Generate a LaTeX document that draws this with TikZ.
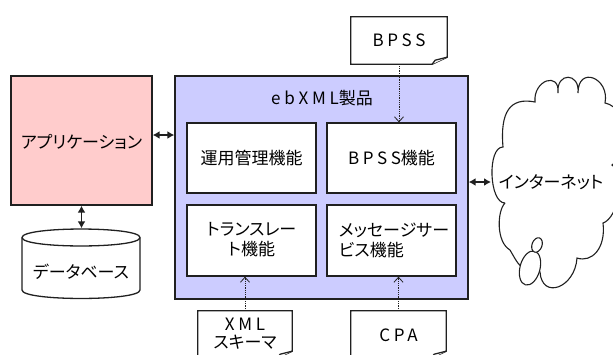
\documentclass[tikz,border=0pt]{standalone}
\usepackage{fontspec}
\setmainfont{Noto Sans CJK JP}[RawFeature=+palt]
\newfontfamily\lsp{Noto Sans CJK JP}[LetterSpace=22]
\usetikzlibrary{arrows.meta,calc}
\definecolor{apppink}{HTML}{FFCCCC}
\definecolor{ebblue}{HTML}{CCCCFF}
\definecolor{edge}{HTML}{202020}
\begin{document}
\begin{tikzpicture}[x=1pt,y=-1pt,
  font=\fontsize{17}{20}\selectfont,
  box/.style={draw=edge, line width=1.3pt, inner sep=0pt},
  inbox/.style={box, fill=white, minimum width=129pt, minimum height=70pt},
  docbox/.style={inner sep=0pt, align=center},
  docline/.style={draw=edge, line width=1.3pt, fill=white, line join=miter},
  dbl/.style={{Latex[length=7pt,width=8pt]}-{Latex[length=7pt,width=8pt]}, line width=1.4pt, draw=edge},
  feed/.style={densely dotted, line width=0.8pt, draw=edge, -{Straight Barb[length=5pt,width=9pt]}},
  cloudline/.style={draw=edge, line width=1.1pt}]
\useasboundingbox (0,0) rectangle (613,354);
\clip (0,0) rectangle (613,354);
\fill[white] (0,0) rectangle (613,354);

% application
\node[box, fill=apppink, minimum width=141pt, minimum height=129pt] (app) at (81.5,140.5) {};
\node (apptext) at (81.5,142) {アプリケーション};

% database cylinder
\node[inner sep=0pt, minimum width=118pt, minimum height=71pt] (db) at (81,264) {};
\draw[docline] (22,237.5) -- (22,290) .. controls (22,301.3) and (140,301.3) .. (140,290) -- (140,237.5)
  .. controls (140,226.2) and (22,226.2) .. (22,237.5) -- cycle;
\draw[draw=edge, line width=1.3pt] (22,237.5) .. controls (22,248.8) and (140,248.8) .. (140,237.5);
\node (dbtext) at (81,272) {データベース};

% ebXML product
\node[box, fill=ebblue, minimum width=293pt, minimum height=223pt] (eb) at (321.5,187.5) {};
\node (ebtitle) at (322,98) {{\lsp ebXML}製品};
\node[inbox] (ops) at (251.5,158) {運用管理機能};
\node[inbox] (bpssf) at (391.5,158) {{\lsp BPSS}機能};
\node[inbox, minimum height=71pt] (trans) at (251.5,240.5) {};
\node[inbox, minimum height=71pt] (msg) at (391.5,240.5) {};
\node[align=center] (transtext) at (251.5,240) {トランスレー\\ト機能};
\node[align=left] (msgtext) at (394,240) {メッセージサー\\ビス機能};

% documents
\node[docbox, minimum width=96pt, minimum height=47pt] (bpssdoc) at (399,40.5) {};
\node[docbox, minimum width=94pt, minimum height=47pt] (xmldoc) at (245,334.5) {};
\node[docbox, minimum width=95pt, minimum height=47pt] (cpadoc) at (398.5,334.5) {};
\foreach \d in {bpssdoc,xmldoc,cpadoc}{
  \draw[docline] (\d.north west) -- (\d.north east) -- ($(\d.south east)+(0,-7)$)
    -- ($(\d.south east)+(-15,0)$) -- (\d.south west) -- cycle;
  \draw[docline] ($(\d.south east)+(-15,0)$) -- ($(\d.south east)+(-12,-4)$) -- ($(\d.south east)+(0,-7)$);
}
\node (bpsstext) at (399,40) {\lsp BPSS};
\node[align=center, font=\fontsize{17}{18}\selectfont] (xmltext) at (245,334) {{\lsp XML}\\スキーマ};
\node (cpatext) at (398.5,335) {\lsp CPA};

% cloud
\draw[cloudline, fill=white] (505,203) .. controls +(-16,0) and +(-16,0) .. (503,147)
  .. controls +(-3,-35) and +(-25,-5) .. (535,102)
  .. controls +(-2,-22) and +(2,-22) .. (558,93)
  .. controls +(-2,-21) and +(2,-21) .. (578,93)
  .. controls +(0,-28) and +(5,-25) .. (605,103)
  .. controls +(25,5) and +(15,-10) .. (612,165)
  .. controls +(15,10) and +(15,-5) .. (603,223)
  .. controls +(3,25) and +(15,5) .. (577,258)
  .. controls +(-2,30) and +(2,28) .. (540,272)
  -- (525,270) .. controls (518,264) .. (510,250)
  .. controls +(-14,-8) and +(-8,8) .. (505,203);
\draw[cloudline, fill=white, rotate around={-15:(530,268)}] (530,268) ellipse [x radius=10, y radius=17.5];
\draw[cloudline, fill=white, rotate around={-20:(537,245)}] (537,245) ellipse [x radius=5, y radius=7.5];
\node (net) at (551,182) {インターネット};
\coordinate (netw) at (491,182);

% connectors
\draw[dbl] ([yshift=5.5pt]app.east) -- ([yshift=5.5pt]app.east -| eb.west);
\draw[dbl] (app.south) -- (app.south |- db.north);
\draw[dbl] ([yshift=5.5pt]eb.east) -- (netw);
\draw[feed] (bpssdoc.south) -- (bpssdoc.south |- bpssf.north);
\draw[feed] (xmldoc.north) -- (xmldoc.north |- trans.south);
\draw[feed] (cpadoc.north) -- (cpadoc.north |- msg.south);
\end{tikzpicture}
\end{document}
